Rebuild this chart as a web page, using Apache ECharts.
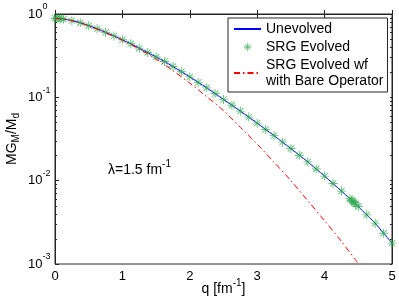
<!DOCTYPE html>
<html><head><meta charset="utf-8">
<script src="https://cdn.jsdelivr.net/npm/echarts@6/dist/echarts.min.js"></script>
<style>html,body{margin:0;padding:0;background:#fff}#c{width:399px;height:301px}</style>
</head><body><div id="c"></div>
<script>
// ---- data ----
const qUnevolved = [0,0.125,0.25,0.375,0.5,0.625,0.75,0.875,1,1.125,1.25,1.375,1.5,1.625,1.75,1.875,2,2.125,2.25,2.375,2.5,2.625,2.75,2.875,3,3.125,3.25,3.375,3.5,3.625,3.75,3.875,4,4.125,4.25,4.375,4.5,4.625,4.75,4.875,5];
const unevolved = [0.891,0.871,0.832,0.785,0.724,0.664,0.603,0.546,0.490,0.439,0.389,0.345,0.305,0.269,0.234,0.203,0.176,0.151,0.130,0.111,0.0944,0.0804,0.0684,0.0579,0.0490,0.0412,0.0347,0.0290,0.0243,0.0202,0.0168,0.0138,0.01135,0.00923,0.0075,0.00607,0.0049,0.00389,0.00309,0.00234,0.00178];
const qSRG = [0,0.03,0.06,0.09,0.125,0.25,0.375,0.5,0.625,0.75,0.875,1,1.125,1.25,1.375,1.5,1.625,1.75,1.875,2,2.125,2.25,2.375,2.5,2.625,2.75,2.875,3,3.125,3.25,3.375,3.5,3.625,3.75,3.875,4,4.125,4.25,4.375,4.4,4.42,4.44,4.46,4.5,4.625,4.75,4.875,5];
const srgEvolved = [0.891,0.889,0.886,0.880,0.871,0.832,0.785,0.724,0.664,0.603,0.546,0.490,0.439,0.389,0.345,0.305,0.269,0.234,0.203,0.176,0.151,0.130,0.111,0.0944,0.0804,0.0684,0.0579,0.0490,0.0412,0.0347,0.0290,0.0243,0.0202,0.0168,0.0138,0.01135,0.00923,0.0075,0.00607,0.00582,0.00562,0.00543,0.00525,0.0049,0.00389,0.00309,0.00234,0.00178];
const qBare = [0,0.25,0.5,0.75,1,1.25,1.5,1.75,2,2.25,2.5,2.75,3,3.25,3.5,3.75,4,4.25,4.5];
const bareOperator = [0.891,0.832,0.724,0.596,0.484,0.380,0.288,0.209,0.148,0.102,0.0692,0.0437,0.0275,0.0166,0.0100,0.00575,0.00331,0.00186,0.00101];
const xTicks = [0,1,2,3,4,5];
const yDecadeExponents = [-3,-2,-1,0];
const names = ['Unevolved','SRG Evolved','SRG Evolved wf\nwith Bare Operator'];
const xLabel = ['q [fm', '-1', ']'];
const yLabel = ['MG', 'M', '/M', 'd'];
const lambdaText = ['\u03bb=1.5 fm', '-1'];

// ---- chart ----
const FONT = '"Liberation Sans", Arial, Helvetica, sans-serif';
const AX = '#262626';
const pair = (xs, ys) => xs.map((x, i) => [x, ys[i]]);
const asterisk = 'path://M-1,-10L1,-10L1,10L-1,10Z M-10,-1L10,-1L10,1L-10,1Z M-6.3,-7.7L7.7,6.3L6.3,7.7L-7.7,-6.3Z M6.3,-7.7L7.7,-6.3L-6.3,7.7L-7.7,6.3Z';
const yMin = Math.pow(10, yDecadeExponents[0]);
const yMax = Math.pow(10, yDecadeExponents[yDecadeExponents.length - 1]);
const minorPos = [];
const allPos = [];
for (let e = yDecadeExponents[0]; e < yDecadeExponents[yDecadeExponents.length - 1]; e++) {
  allPos.push(e);
  for (let k = 2; k <= 9; k++) { minorPos.push(e + Math.log10(k)); allPos.push(e + Math.log10(k)); }
}
allPos.push(yDecadeExponents[yDecadeExponents.length - 1]);

const chart = echarts.init(document.getElementById('c'), null, {renderer: 'canvas'});
chart.setOption({
  animation: false,
  backgroundColor: '#fff',
  textStyle: {fontFamily: FONT},
  grid: {left: 55, right: 7, top: 14, bottom: 37, show: true, borderColor: AX, borderWidth: 1, containLabel: false, outerBoundsMode: 'none'},
  xAxis: [{
    type: 'value', min: xTicks[0], max: xTicks[xTicks.length - 1], interval: 1, position: 'bottom',
    axisLine: {lineStyle: {color: AX, width: 1}},
    axisTick: {inside: true, length: 4, lineStyle: {color: AX}},
    axisLabel: {color: '#000', fontSize: 13, fontFamily: FONT, margin: 6},
    splitLine: {show: false},
    name: '{a|' + xLabel[0] + '}{s|' + xLabel[1] + '}{a|' + xLabel[2] + '}',
    nameLocation: 'middle', nameGap: 14, nameMoveOverlap: false,
    nameTextStyle: {color: '#000', fontFamily: FONT, rich: {a: {fontSize: 14, fontFamily: FONT, color: '#000'}, s: {fontSize: 10, fontFamily: FONT, color: '#000', padding: [0, 0, 12, 0]}}}
  }, {
    type: 'value', min: xTicks[0], max: xTicks[xTicks.length - 1], interval: 1, position: 'top',
    axisLine: {lineStyle: {color: AX, width: 1}},
    axisTick: {inside: true, length: 4, lineStyle: {color: AX}},
    axisLabel: {show: false}, splitLine: {show: false}
  }],
  yAxis: [{
    type: 'log', logBase: 10, min: yMin, max: yMax, position: 'left',
    axisLine: {show: true, lineStyle: {color: AX, width: 1}},
    axisTick: {show: true, inside: true, length: 4, lineStyle: {color: AX}},
    axisLabel: {
      align: 'left', margin: 27, color: '#000',
      formatter: v => '{b|10}{s|' + Math.round(Math.log10(v)) + '}',
      rich: {b: {fontSize: 13, fontFamily: FONT, color: '#000'}, s: {fontSize: 9, fontFamily: FONT, color: '#000', padding: [0, 0, 14, 0]}}
    },
    splitLine: {show: false},
    name: '{a|' + yLabel[0] + '}{u|' + yLabel[1] + '}{a|' + yLabel[2] + '}{u|' + yLabel[3] + '}',
    nameLocation: 'middle', nameGap: 34, nameRotate: 90, nameMoveOverlap: false,
    nameTextStyle: {color: '#000', rich: {a: {fontSize: 14, fontFamily: FONT, color: '#000'}, u: {fontSize: 10, fontFamily: FONT, color: '#000', padding: [8, 0, 0, 0]}}}
  }, {
    type: 'value', min: yDecadeExponents[0], max: yDecadeExponents[yDecadeExponents.length - 1], position: 'left',
    axisLine: {show: false},
    axisTick: {show: true, inside: true, length: 2, customValues: minorPos, lineStyle: {color: AX}},
    axisLabel: {show: false}, splitLine: {show: false}
  }, {
    type: 'value', min: yDecadeExponents[0], max: yDecadeExponents[yDecadeExponents.length - 1], position: 'right',
    axisLine: {show: true, lineStyle: {color: AX}},
    axisTick: {show: true, inside: true, length: 2, customValues: allPos, lineStyle: {color: AX}},
    axisLabel: {show: false}, splitLine: {show: false}
  }],
  legend: {
    data: [
      {name: names[0], itemStyle: {opacity: 0}},
      {name: names[1]},
      {name: names[2], itemStyle: {opacity: 0}}
    ],
    orient: 'vertical', left: 228, top: 18,
    padding: [3, 4, 3, 5], itemGap: 2, itemWidth: 27, itemHeight: 8,
    backgroundColor: '#fff', borderColor: AX, borderWidth: 1,
    textStyle: {fontSize: 14, lineHeight: 16, color: '#000', fontFamily: FONT},
    selectedMode: false
  },
  series: [{
    name: names[0], type: 'line', xAxisIndex: 0, yAxisIndex: 0,
    data: pair(qUnevolved, unevolved), symbol: 'none', smooth: 0.3,
    lineStyle: {color: '#0000ff', width: 1}, itemStyle: {color: '#0000ff'}, z: 2
  }, {
    name: names[1], type: 'scatter', xAxisIndex: 0, yAxisIndex: 0,
    data: pair(qSRG, srgEvolved), symbol: asterisk, symbolSize: 9, symbolKeepAspect: true,
    itemStyle: {color: '#2fa84f', opacity: 0.75}, z: 3
  }, {
    name: names[2], type: 'line', xAxisIndex: 0, yAxisIndex: 0,
    data: pair(qBare, bareOperator), symbol: 'none', smooth: 0.3,
    lineStyle: {color: '#ff0000', width: 1, type: [6, 3, 1.5, 3]}, itemStyle: {color: '#ff0000'}, z: 4
  }],
  graphic: [{
    type: 'text', left: 108, top: 159, z: 10,
    style: {
      text: '{a|' + lambdaText[0] + '}{s|' + lambdaText[1] + '}',
      rich: {a: {fontSize: 14, fontFamily: FONT, fill: '#000'}, s: {fontSize: 10, fontFamily: FONT, fill: '#000', padding: [0, 0, 12, 0]}}
    }
  }]
});
</script>
</body></html>
